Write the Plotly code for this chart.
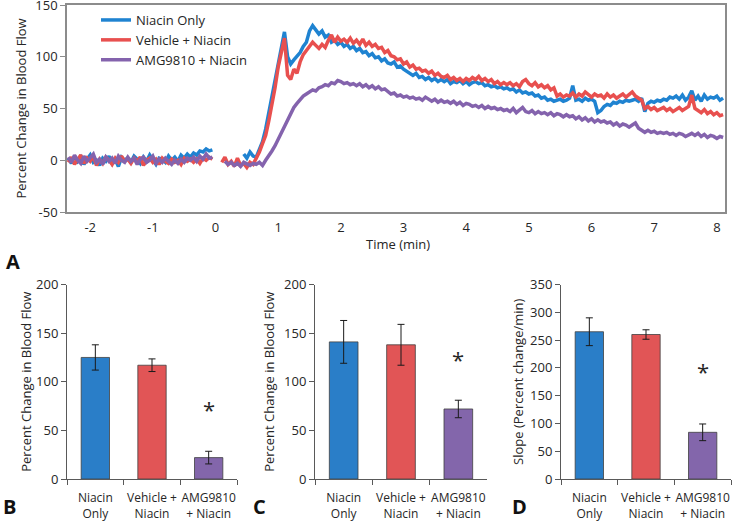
import plotly.graph_objects as go

# ---------------- Data ----------------
# Panel A: time course (min), sampled every 0.05 min starting at -2.35
T_START = -2.35
T_STEP = 0.05
niacin_only = [
    2, -3, 4, -1, 3, -4, 1, 5, -2, 0,
    -5, 2, -1, 4, -3, 1, -6, 3, 0, 2,
    -2, 4, 1, -3, 3, -1, 5, 0, -4, 2,
    1, -2, 4, 0, 3, -1, 5, 2, 6, 3,
    7, 5, 9, 8, 11, 9, 10, None, None, None,
    None, None, None, None, None, None, 6, 2, 8, 4,
    3, 10, 18, 30, 45, 60, 75, 92, 108, 124,
    100, 93, 97, 100, 104, 110, 114, 125, 130, 126,
    122, 125, 119, 121, 114, 116, 112, 114, 110, 112,
    108, 110, 106, 108, 104, 105, 101, 103, 99, 100,
    96, 98, 94, 93, 95, 90, 91, 88, 86, 84,
    82, 84, 80, 81, 78, 80, 77, 79, 76, 78,
    76, 78, 74, 76, 75, 77, 74, 76, 73, 75,
    76, 74, 75, 72, 73, 71, 72, 70, 71, 69,
    70, 68, 69, 66, 68, 65, 66, 64, 65, 62,
    63, 60, 61, 58, 59, 57, 58, 59, 57, 58,
    60, 72, 58, 59, 57, 60, 58, 59, 57, 46,
    48, 52, 54, 53, 56, 55, 57, 56, 58, 57,
    58, 59, 57, 60, 47, 55, 57, 56, 58, 57,
    59, 58, 61, 60, 62, 59, 63, 58, 61, 67,
    58, 62, 57, 63, 59, 61, 60, 62, 58, 60,
]
vehicle_niacin = [
    -2, 3, -4, 1, 5, -3, 2, -1, 4, -5,
    1, -3, 3, 0, -4, 2, -2, 4, -1, 1,
    -3, 2, -1, 3, -5, 0, 2, -2, 1, -4,
    2, -1, -3, 1, -2, 0, -4, 2, -1, 1,
    -2, 1, -3, 2, 0, 3, 1, None, None, -2,
    3, -4, -1, -6, 2, -5, -3, -7, -2, -4,
    2, 8, 16, 24, 38, 52, 70, 90, 105, 118,
    82, 78, 88, 84, 95, 102, 106, 110, 114, 111,
    108, 112, 109, 116, 121, 114, 119, 115, 117, 114,
    118, 113, 116, 112, 117, 111, 114, 110, 112, 108,
    109, 104, 106, 101, 100, 97, 98, 93, 95, 90,
    92, 88, 89, 86, 87, 84, 86, 82, 84, 81,
    80, 82, 78, 80, 77, 79, 76, 79, 77, 80,
    78, 81, 77, 79, 76, 78, 74, 76, 73, 75,
    73, 75, 72, 74, 71, 76, 78, 74, 72, 75,
    71, 73, 70, 72, 68, 70, 62, 64, 61, 63,
    62, 65, 61, 64, 62, 66, 63, 61, 64, 62,
    63, 60, 64, 61, 63, 60, 62, 64, 61, 63,
    66, 62, 60, 58, 50, 52, 49, 51, 48, 50,
    51, 48, 50, 47, 49, 51, 48, 50, 52, 63,
    50, 48, 46, 49, 45, 47, 44, 46, 43, 44,
]
amg_niacin = [
    3, -2, 5, 0, -3, 4, -1, 2, 6, -2,
    1, -4, 3, -1, 2, -3, 4, 0, -2, 3,
    -1, 2, -4, 1, 3, -2, 0, 4, -3, 1,
    -2, 2, -1, -4, 0, -3, 1, -2, 2, 0,
    3, -1, 4, 1, 6, 2, 3, None, None, None,
    -1, -4, -2, -5, -3, -6, -2, -4, -5, -3,
    -4, -2, -5, 0, 4, 9, 14, 20, 26, 33,
    38, 45, 51, 55, 59, 62, 64, 66, 68, 67,
    70, 71, 73, 72, 75, 74, 77, 76, 74, 75,
    73, 74, 72, 74, 71, 73, 70, 72, 69, 71,
    68, 69, 66, 64, 65, 62, 63, 61, 62, 60,
    61, 59, 60, 58, 61, 59, 57, 59, 56, 58,
    56, 57, 55, 57, 54, 56, 53, 55, 54, 52,
    53, 51, 53, 50, 52, 50, 51, 49, 50, 48,
    49, 47, 50, 46, 48, 51, 47, 46, 48, 45,
    47, 45, 46, 44, 46, 43, 45, 44, 42, 44,
    42, 43, 40, 42, 39, 41, 38, 40, 37, 39,
    37, 38, 36, 37, 34, 36, 33, 35, 34, 32,
    34, 36, 31, 29, 27, 29, 27, 28, 26, 27,
    26, 27, 25, 26, 24, 26, 25, 23, 25, 26,
    24, 26, 23, 25, 22, 24, 23, 21, 23, 22,
]
time_min = [round(T_START + T_STEP * i, 2) for i in range(len(niacin_only))]
series_names = ["Niacin Only", "Vehicle + Niacin", "AMG9810 + Niacin"]
time_ticks = [-2, -1, 0, 1, 2, 3, 4, 5, 6, 7, 8]
time_tick_labels = ["-2", "-1", "0", "1", "2", "3", "4", "5", "6", "7", "8"]
flow_ticks = [-50, 0, 50, 100, 150]
flow_tick_labels = ["-50", "0", "50", "100", "150"]

# Panels B, C, D: bar charts
categories = ["Niacin<br>Only", "Vehicle +<br>Niacin", "AMG9810<br>+ Niacin"]
b_values = [125, 117, 22]
b_errors = [13, 6.5, 6.5]
c_values = [141, 138, 72]
c_errors = [22, 21, 9]
d_values = [265, 260, 84]
d_errors = [25, 8.5, 15]
star_b = 72
star_c = 123
star_d = 195

# ---------------- Styling ----------------
W, H = 733, 521
FONT = "Open Sans"
TXT = "#262626"
line_colors = ["#1f83d1", "#e8504f", "#8463ad"]
bar_colors = ["#2a7ec8", "#e15556", "#8366ab"]


def fx(px):
    return px / W


def fy(py):
    return 1 - py / H


fig = go.Figure()

for name, vals, col in zip(series_names, [niacin_only, vehicle_niacin, amg_niacin], line_colors):
    fig.add_trace(go.Scatter(
        x=time_min, y=vals, name=name, mode="lines",
        line=dict(color=col, width=3.5), xaxis="x", yaxis="y",
        connectgaps=False,
    ))

panels = [
    ("x2", "y2", b_values, b_errors),
    ("x3", "y3", c_values, c_errors),
    ("x4", "y4", d_values, d_errors),
]
for xa, ya, vals, errs in panels:
    fig.add_trace(go.Bar(
        x=categories, y=vals, xaxis=xa, yaxis=ya, width=0.5,
        marker=dict(color=bar_colors, line=dict(color="#404040", width=0.8)),
        error_y=dict(type="data", array=errs, color="#1a1a1a", thickness=1, width=3.5),
        showlegend=False,
    ))

axis_font = dict(family=FONT, size=13, color=TXT)
cat_font = dict(family=FONT, size=12, color=TXT)

layout = dict(
    width=W, height=H,
    margin=dict(l=0, r=0, t=0, b=0, pad=0, autoexpand=False),
    paper_bgcolor="white", plot_bgcolor="white",
    font=dict(family=FONT, size=13, color=TXT),
    showlegend=True,
    legend=dict(
        x=fx(96), y=fy(5), xanchor="left", yanchor="top",
        font=dict(family=FONT, size=13, color=TXT),
        bgcolor="rgba(0,0,0,0)", itemwidth=30, tracegroupgap=0,
    ),
    bargap=0.5,
    xaxis=dict(
        domain=[fx(67), fx(725)], range=[-2.37, 8.13], automargin=False,
        tickvals=time_ticks, ticktext=time_tick_labels, ticks="",
        showgrid=False, zeroline=False,
        showline=True, linecolor="#8c8c8c", linewidth=1.5, mirror=True,
        tickfont=axis_font, ticklabelstandoff=3, ticklabeloverflow="allow",
        anchor="y",
    ),
    yaxis=dict(
        domain=[fy(212), fy(5)], range=[-50, 150], automargin=False,
        tickvals=flow_ticks, ticktext=flow_tick_labels,
        ticks="outside", ticklen=5, tickcolor="#8c8c8c",
        showgrid=False, zeroline=False,
        showline=True, linecolor="#8c8c8c", linewidth=1.5, mirror=True,
        tickfont=axis_font, ticklabeloverflow="allow",
        title=dict(text="Percent Change in Blood Flow", font=axis_font, standoff=6),
        anchor="x",
    ),
)

bar_x_domains = [(67, 237), (315, 487), (561, 731)]
bar_y_ranges = [[0, 200], [0, 200], [0, 350]]
bar_y_titles = ["Percent Change in Blood Flow", "Percent Change in Blood Flow",
                "Slope (Percent change/min)"]
bar_title_standoff = [1, 6, 3]
for k, ((x0, x1), yr, yt, so) in enumerate(
        zip(bar_x_domains, bar_y_ranges, bar_y_titles, bar_title_standoff), start=2):
    layout[f"xaxis{k}"] = dict(
        domain=[fx(x0), fx(x1)], anchor=f"y{k}", type="category",
        range=[-0.5, 2.5], tickangle=0, automargin=False,
        ticks="outside", tickson="boundaries", ticklen=5, tickcolor="#595959",
        showline=True, linecolor="#595959", linewidth=1,
        showgrid=False, zeroline=False, tickfont=cat_font,
        ticklabelstandoff=8, ticklabeloverflow="allow",
    )
    layout[f"yaxis{k}"] = dict(
        domain=[fy(479), fy(284.5)], anchor=f"x{k}", range=yr, dtick=50,
        automargin=False,
        ticks="outside", ticklen=5, tickcolor="#595959",
        showline=True, linecolor="#595959", linewidth=1,
        showgrid=False, zeroline=False, tickfont=axis_font,
        ticklabeloverflow="allow",
        title=dict(text=yt, font=axis_font, standoff=so),
    )

fig.update_layout(**layout)

# x-axis title of panel A
fig.add_annotation(
    x=fx(398), y=fy(244), xref="paper", yref="paper", text="Time (min)",
    showarrow=False, xanchor="center", yanchor="middle", font=axis_font,
)

# significance stars
for k, sy in zip([2, 3, 4], [star_b, star_c, star_d]):
    fig.add_annotation(
        x=categories[2], y=sy, xref=f"x{k}", yref=f"y{k}", text="*",
        showarrow=False, font=dict(family=FONT, size=22, color=TXT),
    )

# panel letters
for letter, px, py in [("A", 13, 261), ("B", 9, 506), ("C", 259, 506), ("D", 519, 506)]:
    fig.add_annotation(
        x=fx(px), y=fy(py), xref="paper", yref="paper", text=f"<b>{letter}</b>",
        showarrow=False, xanchor="center", yanchor="middle",
        font=dict(family=FONT, size=20, color="#111111"),
    )

fig.write_html(
    "out.html",
    config=dict(displayModeBar=False),
    post_script="document.body.style.margin='0px';document.body.style.overflow='hidden';",
)
